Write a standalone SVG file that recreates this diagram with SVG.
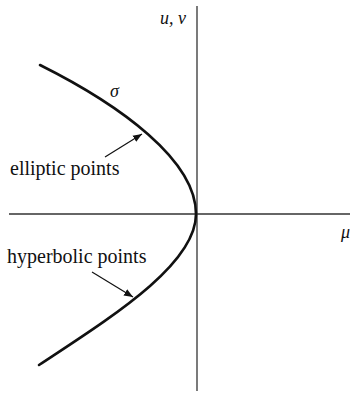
<svg xmlns="http://www.w3.org/2000/svg" width="350" height="393" viewBox="0 0 350 393">
<style>
.axis{stroke:#333;stroke-width:1.3;fill:none}
.curve{stroke:#111;stroke-width:2.6;fill:none;stroke-linecap:round}
.ptr{stroke:#111;stroke-width:1.2;fill:none}
.lbl{font-family:"Liberation Serif",serif;font-size:20px;fill:#111}
.sym{font-family:"Liberation Serif",serif;font-size:18px;font-style:italic;fill:#111}
</style>
<defs>
<marker id="ah" viewBox="0 0 10 10" refX="10" refY="5" markerWidth="9" markerHeight="9" markerUnits="userSpaceOnUse" orient="auto">
<path d="M0,1 L10,5 L0,9 Z" fill="#111"/>
</marker>
</defs>
<g id="axes">
<line class="axis" x1="197" y1="6" x2="197" y2="391"/>
<line class="axis" x1="9" y1="214" x2="350" y2="214"/>
<text class="sym" x="160" y="24">u, v</text>
<text class="sym" x="341" y="238">μ</text>
</g>
<g id="sigma">
<path class="curve" d="M40,65 C120,105 196,160 196,214 C196,265 110,318 39,365"/>
<text class="sym" x="110" y="97">σ</text>
</g>
<g id="connectors">
<line class="ptr" x1="105" y1="157" x2="142" y2="134" marker-end="url(#ah)"/>
<line class="ptr" x1="92" y1="272" x2="133" y2="297" marker-end="url(#ah)"/>
</g>
<g id="elliptic">
<text class="lbl" x="10" y="175">elliptic points</text>
</g>
<g id="hyperbolic">
<text class="lbl" x="7" y="263">hyperbolic points</text>
</g>
</svg>
